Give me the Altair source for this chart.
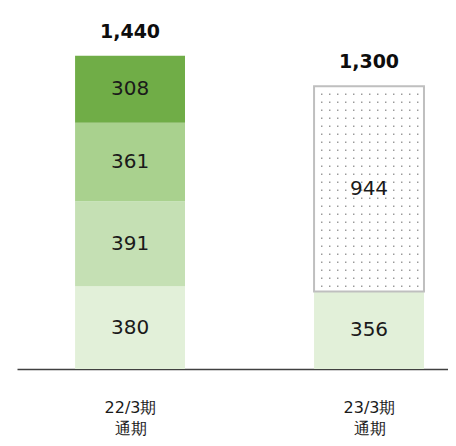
import json
import numpy as np
import pandas as pd
import altair as alt

# ---- data ----
categories = ["22/3期\n通期", "23/3期\n通期"]
bar1_values = [380, 391, 361, 308]          # bottom -> top
bar1_colors = ["#E2F0D9", "#C5E0B4", "#A9D18E", "#70AD47"]
bar2_values = [356, 944]                    # bottom -> top (944 = forecast, dotted)
bar2_colors = ["#E2F0D9", "#FFFFFF"]
totals = [1440, 1300]

HALF = 0.23  # half bar width in x units

rows = []
for idx, (vals, cols) in enumerate([(bar1_values, bar1_colors), (bar2_values, bar2_colors)]):
    base = 0
    for v, c in zip(vals, cols):
        rows.append({"pos": idx, "start": base, "end": base + v, "value": v, "fill": c,
                     "dotted": (idx == 1 and c == "#FFFFFF")})
        base += v
seg = pd.DataFrame(rows)
seg["mid"] = (seg["start"] + seg["end"]) / 2
seg["x0"] = seg["pos"] - HALF
seg["x1"] = seg["pos"] + HALF

tot = pd.DataFrame({"pos": [0, 1], "total": totals})

# dot texture for the forecast segment (decorative pattern, 8px grid)
d = seg[seg["dotted"]].iloc[0]
px_per_x = 239.0
px_per_y = 0.2175
xs = d["pos"] + (-47.3 + 8 * np.arange(13)) / px_per_x
ys = d["end"] - (8 * np.arange(1, 26)) / px_per_y
ys = ys[ys > d["start"] + 3 / px_per_y]
dots = pd.DataFrame([(x, y) for x in xs for y in ys], columns=["x", "y"])

xscale = alt.Scale(domain=[-0.473, 1.3305], nice=False, zero=False)
yscale = alt.Scale(domain=[0, 1600], nice=False)

label_expr = "split(" + json.dumps(categories, ensure_ascii=False) + "[datum.value], '\\n')"

FONT = "DejaVu Sans"

bars = alt.Chart(seg).mark_bar(strokeWidth=0).encode(
    x=alt.X("x0:Q", scale=xscale,
            axis=alt.Axis(values=[0, 1], labelExpr=label_expr, title=None, ticks=False,
                          grid=False, domainColor="#404040", domainWidth=1.5,
                          labelPadding=30, labelFontSize=16, labelLineHeight=21,
                          labelBaseline="top",
                          labelColor="#1A1A1A", labelFont=FONT, labelFlush=False,
                          labelOverlap=False)),
    x2="x1:Q",
    y=alt.Y("start:Q", scale=yscale, axis=None),
    y2="end:Q",
    fill=alt.Fill("fill:N", scale=None),
)

dot_layer = alt.Chart(dots).mark_square(size=2.2, color="#9A9A9A", opacity=1).encode(
    x=alt.X("x:Q", scale=xscale),
    y=alt.Y("y:Q", scale=yscale),
)

border = alt.Chart(seg[seg["dotted"]]).mark_bar(stroke="#BFBFBF", strokeWidth=2, fillOpacity=0).encode(
    x=alt.X("x0:Q", scale=xscale),
    x2="x1:Q",
    y=alt.Y("start:Q", scale=yscale),
    y2="end:Q",
)

seg_labels = alt.Chart(seg).mark_text(font=FONT, fontSize=20, color="#1A1A1A", baseline="middle").encode(
    x=alt.X("pos:Q", scale=xscale),
    y=alt.Y("mid:Q", scale=yscale),
    text=alt.Text("value:Q"),
)

tot_labels = alt.Chart(tot).mark_text(font=FONT, fontSize=19, fontWeight="bold", color="#0D0D0D",
                                      baseline="middle", dy=-24).encode(
    x=alt.X("pos:Q", scale=xscale),
    y=alt.Y("total:Q", scale=yscale),
    text=alt.Text("total:Q", format=","),
)

chart = alt.layer(bars, dot_layer, border, seg_labels, tot_labels).properties(
    width=431, height=348,
    padding={"left": 9, "top": 13, "right": 0, "bottom": 69},
    autosize=alt.AutoSizeParams(type="none"),
    background="white",
).configure_view(strokeWidth=0)

chart.save("out.html", embed_options={"renderer": "svg", "actions": False})
